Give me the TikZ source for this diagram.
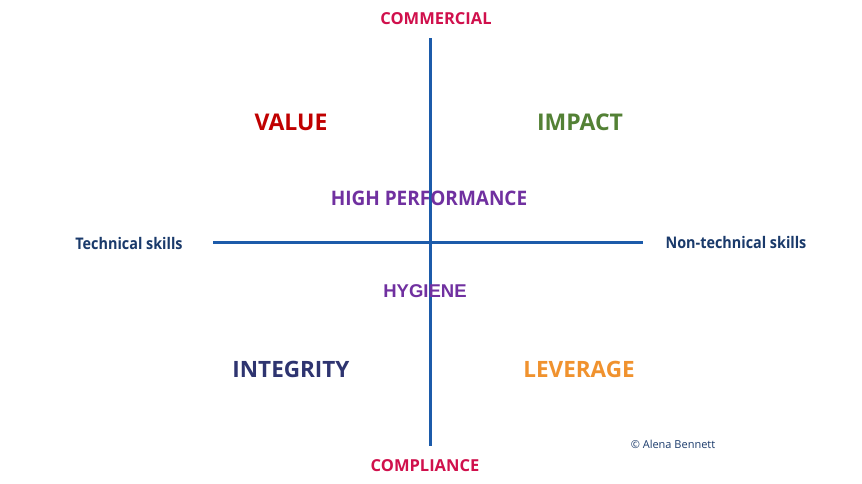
\documentclass[tikz,border=0pt]{standalone}
\usepackage{fontspec}
\setmainfont{Open Sans}
\newfontfamily\condfont[FakeStretch=0.9]{Open Sans}
\newfontfamily\hpfont[FakeStretch=0.95]{Open Sans}
\newfontfamily\arialfont{Liberation Sans}
\definecolor{axisblue}{HTML}{1C5BAA}
\definecolor{crim}{HTML}{D0104C}
\definecolor{valred}{HTML}{C00000}
\definecolor{impgreen}{HTML}{538135}
\definecolor{purp}{HTML}{7030A0}
\definecolor{navy}{HTML}{1A3A6B}
\definecolor{intnavy}{HTML}{2E3470}
\definecolor{levorange}{HTML}{F0922E}
\begin{document}
\begin{tikzpicture}[x=1pt,y=-1pt,
  lbl/.style={inner sep=0pt},
  axis/.style={draw=axisblue, line width=3pt}]
\useasboundingbox (0,0) rectangle (862,483);
\fill[white] (0,0) rectangle (862,483);
\coordinate (top) at (430,38);
\coordinate (bot) at (430,446);
\coordinate (left) at (213,242);
\coordinate (right) at (643,242);
\draw[axis] (top) -- (bot);
\draw[axis] (left) -- (right);
\node[lbl, text=crim, font=\fontsize{16.5}{18}\selectfont\bfseries] (comm) at (436,19) {COMMERCIAL};
\node[lbl, text=crim, font=\fontsize{16.5}{18}\selectfont\bfseries] (compl) at (425,466) {COMPLIANCE};
\node[lbl, text=valred, font=\fontsize{23}{28}\selectfont\bfseries] (value) at (291,122) {VALUE};
\node[lbl, text=impgreen, font=\fontsize{23}{28}\selectfont\bfseries] (impact) at (580,122) {IMPACT};
\node[lbl, text=intnavy, font=\fontsize{22.5}{28}\selectfont\bfseries] (integ) at (291,369) {INTEGRITY};
\node[lbl, text=levorange, font=\fontsize{22.5}{28}\selectfont\bfseries] (lev) at (579,369) {LEVERAGE};
\node[lbl, text=purp, font=\hpfont\fontsize{20}{22}\selectfont\bfseries] (hp) at (429,198) {HIGH PERFORMANCE};
\node[lbl, text=purp, font=\arialfont\fontsize{18.5}{22}\selectfont\bfseries] (hyg) at (425,291) {HYGIENE};
\node[lbl, text=navy, font=\condfont\fontsize{16}{18}\selectfont\bfseries] (tech) at (129,243) {Technical skills};
\node[lbl, text=navy, font=\condfont\fontsize{16}{18}\selectfont\bfseries] (nontech) at (736,242) {Non-technical skills};
\node[lbl, text=navy, font=\fontsize{11}{14}\selectfont] (copy) at (673,444) {© Alena Bennett};
\end{tikzpicture}
\end{document}
